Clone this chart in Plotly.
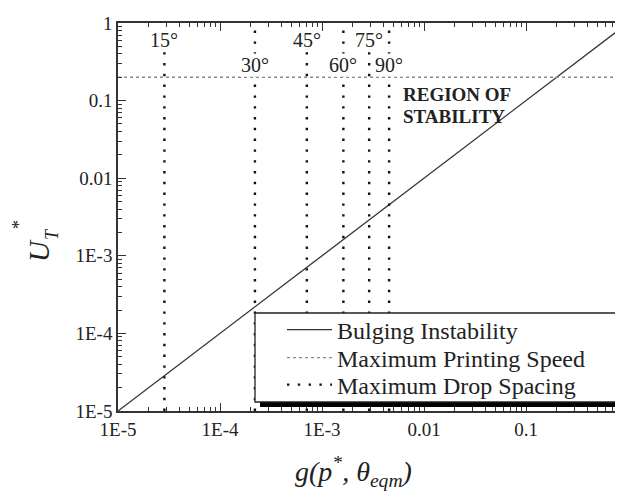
import numpy as np
import plotly.graph_objects as go

# ---------------- data ----------------
bulging_x = [1e-5, 1.0]
bulging_y = [1e-5, 1.0]

printing_speed = 0.2
printing_x = [1e-5, 1.0]

spacing_angles = ["15°", "30°", "45°", "60°", "75°", "90°"]
spacing_g = [2.85e-5, 2.2e-4, 7.1e-4, 1.62e-3, 2.9e-3, 4.55e-3]
angle_row = [0, 1, 0, 1, 0, 1]   # 0 = upper label row, 1 = lower label row

tick_vals = [1e-5, 1e-4, 1e-3, 1e-2, 1e-1, 1.0]
tick_text = ["1E-5", "1E-4", "1E-3", "0.01", "0.1", "1"]
y_range = [1e-5, 1.0]

# ---------------- figure ----------------
W, H = 623, 491
L, R, T, B = 110, 3, 15, 88
PW, PH = W - L - R, H - T - B

def px(x):
    return (x - L) / PW

def py(y):
    return (H - B - y) / PH

SERIF = "Liberation Serif, Times New Roman, serif"
INK = "#222222"

fig = go.Figure()

fig.add_trace(go.Scatter(
    x=bulging_x, y=bulging_y, mode="lines", name="Bulging Instability",
    line=dict(color="#333333", width=1.3), legend="legend"))

fig.add_trace(go.Scatter(
    x=printing_x, y=[printing_speed] * len(printing_x), mode="lines",
    name="Maximum Printing Speed",
    line=dict(color="#8a8a8a", width=1.3, dash="3px,3px"), legend="legend2"))

vx, vy = [], []
for g in spacing_g:
    vx += [g, g, None]
    vy += [y_range[0], y_range[1], None]
fig.add_trace(go.Scatter(
    x=vx, y=vy, mode="lines", name="Maximum Drop Spacing",
    line=dict(color="#111111", width=2.4, dash="2.4px,8.4px"), legend="legend3"))

# minor tick positions (2..9 in each decade)
minor_vals = [m * 10.0 ** e for e in range(-5, 0) for m in range(2, 10)]

axis_common = dict(
    type="log", showgrid=False, zeroline=False,
    showline=True, linecolor="#333333", linewidth=1.5, mirror="allticks",
    ticks="inside", ticklen=8, tickwidth=1.2, tickcolor="#333333",
    tickmode="array", tickvals=tick_vals, ticktext=tick_text,
    tickfont=dict(family=SERIF, size=19, color=INK),
    minor=dict(ticks="inside", ticklen=4, tickwidth=1, tickcolor="#333333",
               tickmode="array", tickvals=minor_vals, showgrid=False),
)

fig.update_xaxes(range=[np.log10(bulging_x[0]), np.log10(bulging_x[-1])], **axis_common)
fig.update_yaxes(range=[np.log10(y_range[0]), np.log10(y_range[1])], **axis_common)

annotations = []
for lab, g, row in zip(spacing_angles, spacing_g, angle_row):
    annotations.append(dict(
        x=np.log10(g), xref="x", y=py(32 if row == 0 else 57), yref="paper",
        text=lab, showarrow=False, xanchor="center", yanchor="middle",
        font=dict(family=SERIF, size=20, color=INK), bgcolor="white", borderpad=0))

for txt, yy in (("<b>REGION OF</b>", 86), ("<b>STABILITY</b>", 108)):
    annotations.append(dict(
        x=px(393), y=py(yy), xref="paper", yref="paper",
        text=txt, showarrow=False, align="left",
        xanchor="left", yanchor="middle",
        font=dict(family=SERIF, size=19, color=INK)))

# axis titles
annotations.append(dict(
    x=px(345), y=py(464), xref="paper", yref="paper",
    text="<i>g(p<sup>*</sup>, θ<sub>eqm</sub>)</i>", showarrow=False,
    xanchor="center", yanchor="middle",
    font=dict(family=SERIF, size=28, color=INK)))
annotations.append(dict(
    x=px(31), y=py(243), xref="paper", yref="paper", text="<i>U</i>",
    textangle=-90, showarrow=False, xanchor="center", yanchor="middle",
    font=dict(family=SERIF, size=29, color=INK)))
annotations.append(dict(
    x=px(44), y=py(226), xref="paper", yref="paper", text="<i>T</i>",
    textangle=-90, showarrow=False, xanchor="center", yanchor="middle",
    font=dict(family=SERIF, size=18, color=INK)))
annotations.append(dict(
    x=px(11), y=py(217), xref="paper", yref="paper", text="*",
    textangle=-90, showarrow=False, xanchor="center", yanchor="middle",
    font=dict(family=SERIF, size=18, color=INK)))

shapes = [
    # legend drop shadow
    dict(type="rect", xref="paper", yref="paper",
         x0=px(252), x1=px(617), y0=py(399), y1=py(310),
         fillcolor="#000000", line=dict(width=0), layer="above"),
    # legend box
    dict(type="rect", xref="paper", yref="paper",
         x0=px(247), x1=px(612), y0=py(394), y1=py(305),
         fillcolor="white", line=dict(color="#222222", width=1.3), layer="above"),
]

def leg(row_y):
    return dict(x=px(274), y=py(row_y), xanchor="left", yanchor="middle",
                xref="paper", yref="paper",
                bgcolor="rgba(0,0,0,0)", borderwidth=0, itemwidth=45,
                font=dict(family=SERIF, size=24, color=INK))

fig.update_layout(
    width=W, height=H, margin=dict(l=L, r=R, t=T, b=B, autoexpand=False),
    paper_bgcolor="white", plot_bgcolor="white",
    showlegend=True,
    legend=leg(322), legend2=leg(350), legend3=leg(377),
    annotations=annotations, shapes=shapes,
)

fig.write_html("out.html")
